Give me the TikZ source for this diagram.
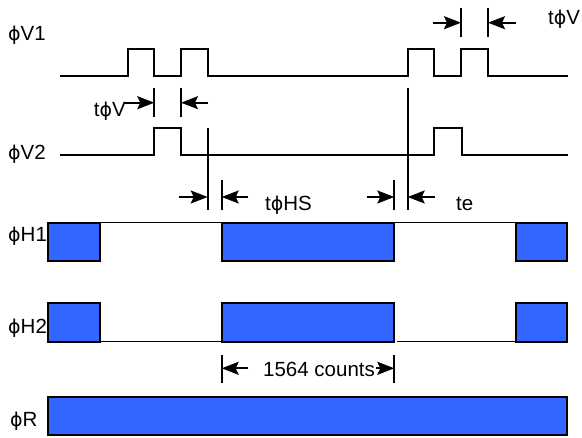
\documentclass[tikz,border=0pt]{standalone}
\usepackage{fontspec}
\setmainfont{Liberation Sans}
\newfontfamily\phifont{DejaVu Sans}
\newcommand{\ph}{{\phifont\fontsize{19}{24}\selectfont ϕ}}
\usetikzlibrary{arrows.meta}
\definecolor{hblue}{RGB}{51,102,255}
\begin{document}
\begin{tikzpicture}[x=1pt,y=-1pt,
  sig/.style={line width=2pt, line join=miter},
  lvl/.style={line width=1.3pt},
  clk/.style={draw=black, fill=hblue, line width=2pt},
  tickline/.style={line width=2pt},
  dimarrow/.style={line width=1.7pt, -{Stealth[length=17pt,width=13pt,inset=3pt]}},
  lab/.style={anchor=base west, inner sep=0pt, font=\fontsize{20.5}{24}\selectfont},
  labr/.style={anchor=base east, inner sep=0pt, font=\fontsize{20.5}{24}\selectfont},
]
\useasboundingbox (0,0) rectangle (582,438);

% labels
\node[lab] (lV1) at (8,41) {\ph V1};
\node[lab] (lV2) at (8,160) {\ph V2};
\node[lab] (lH1) at (8,242) {\ph H1};
\node[lab] (lH2) at (8,334) {\ph H2};
\node[lab] (lR) at (10,427) {\ph R};

% V1 and V2 signals
\draw[sig] (60,76) -- (127.7,76) -- (127.7,49) -- (154.3,49) -- (154.3,76) -- (181,76) -- (181,49) -- (207.7,49) -- (207.7,76)
  -- (407.7,76) -- (407.7,49) -- (434.3,49) -- (434.3,76) -- (461,76) -- (461,49) -- (487.7,49) -- (487.7,76) -- (568.3,76);
\draw[sig] (60,155.3) -- (154.3,155.3) -- (154.3,128.3) -- (181,128.3) -- (181,155.3)
  -- (434.3,155.3) -- (434.3,128.3) -- (462,128.3) -- (462,155.3) -- (568.3,155.3);

% guide lines
\coordinate (gA1) at (207.7,128.3); \coordinate (gA2) at (207.7,210);
\coordinate (gB1) at (407.7,88);    \coordinate (gB2) at (407.7,210);
\draw[tickline] (gA1) -- (gA2);
\draw[tickline] (gB1) -- (gB2);

% t phi V (left)
\coordinate (tv1a) at (154.3,88); \coordinate (tv1b) at (154.3,117);
\coordinate (tv2a) at (181,88);   \coordinate (tv2b) at (181,117);
\draw[tickline] (tv1a) -- (tv1b);
\draw[tickline] (tv2a) -- (tv2b);
\node[labr] (ltV) at (126,117) {t\ph V};
\coordinate (tvL) at (124,102.7); \coordinate (tvLe) at (154.3,102.7);
\coordinate (tvR) at (208,102.7); \coordinate (tvRe) at (181,102.7);
\draw[dimarrow] (tvL) -- (tvLe);
\draw[dimarrow] (tvR) -- (tvRe);

% t phi V (right, top)
\coordinate (tw1a) at (461,8);   \coordinate (tw1b) at (461,37);
\coordinate (tw2a) at (488,8);   \coordinate (tw2b) at (488,37);
\draw[tickline] (tw1a) -- (tw1b);
\draw[tickline] (tw2a) -- (tw2b);
\coordinate (twL) at (433,22.7); \coordinate (twLe) at (461,22.7);
\coordinate (twR) at (516,22.7); \coordinate (twRe) at (488,22.7);
\draw[dimarrow] (twL) -- (twLe);
\draw[dimarrow] (twR) -- (twRe);
\node[lab] (ltV2) at (548,25) {t\ph V};

% t phi HS
\coordinate (hs1a) at (221.7,180); \coordinate (hs1b) at (221.7,210);
\draw[tickline] (hs1a) -- (hs1b);
\coordinate (hsL) at (179,197); \coordinate (hsLe) at (207.7,197);
\coordinate (hsR) at (248,197); \coordinate (hsRe) at (221.7,197);
\draw[dimarrow] (hsL) -- (hsLe);
\draw[dimarrow] (hsR) -- (hsRe);
\node[lab] (ltHS) at (265,211) {t\ph HS};

% te
\coordinate (te1a) at (394.3,180); \coordinate (te1b) at (394.3,210);
\draw[tickline] (te1a) -- (te1b);
\coordinate (teL) at (366.7,197); \coordinate (teLe) at (394.3,197);
\coordinate (teR) at (435,197);   \coordinate (teRe) at (407.7,197);
\draw[dimarrow] (teL) -- (teLe);
\draw[dimarrow] (teR) -- (teRe);
\node[lab] (lte) at (456,211) {te};

% H1
\draw[clk] (48.3,222.7) rectangle (100,261);
\draw[clk] (221.7,222.7) rectangle (394.3,261);
\draw[clk] (515.7,222.7) rectangle (567.3,261);
\draw[lvl] (100,222.7) -- (221.7,222.7);
\draw[lvl] (394.3,222.7) -- (515.7,222.7);

% H2
\draw[clk] (48.3,303.3) rectangle (100,341.7);
\draw[clk] (221.7,303.3) rectangle (394.3,341.7);
\draw[clk] (515.7,303.3) rectangle (567.3,341.7);
\draw[lvl] (100,341.7) -- (221.7,341.7);
\draw[lvl] (396.5,341.7) -- (515.7,341.7);

% 1564 counts
\coordinate (c1a) at (221.7,355); \coordinate (c1b) at (221.7,383);
\coordinate (c2a) at (394.3,355); \coordinate (c2b) at (394.3,383);
\draw[tickline] (c1a) -- (c1b);
\draw[tickline] (c2a) -- (c2b);
\node[lab] (lcnt) at (263,377) {1564 counts};
\coordinate (cL) at (248,368.3); \coordinate (cLe) at (221.7,368.3);
\coordinate (cR) at (376,368.3); \coordinate (cRe) at (394.3,368.3);
\draw[dimarrow] (cL) -- (cLe);
\draw[dimarrow] (cR) -- (cRe);

% R
\draw[clk] (48.3,396.7) rectangle (567.3,435);
\end{tikzpicture}
\end{document}
